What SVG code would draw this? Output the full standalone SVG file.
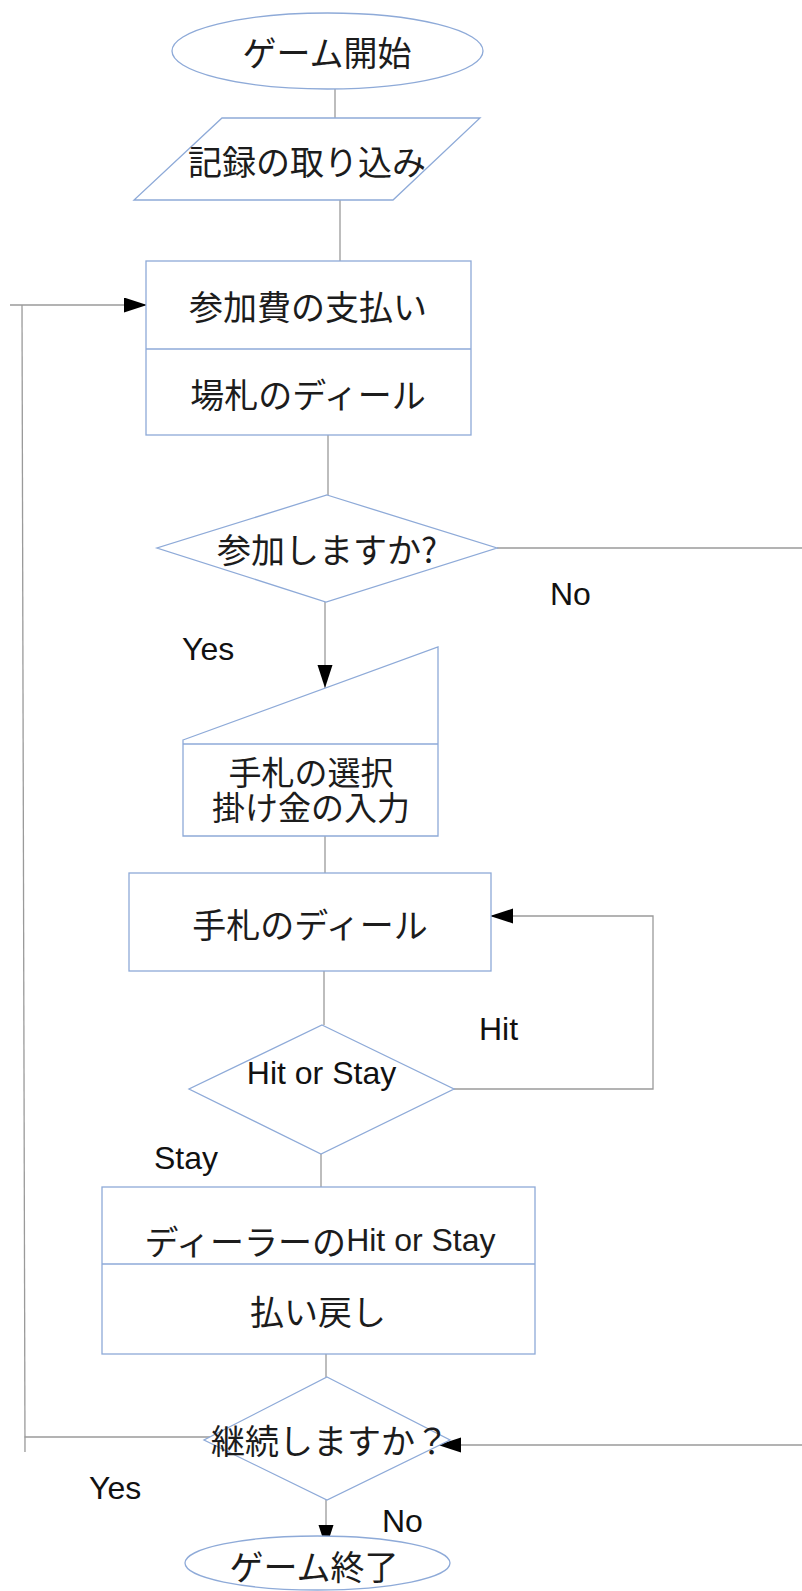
<svg xmlns="http://www.w3.org/2000/svg" width="802" height="1591" viewBox="0 0 802 1591">
<defs>
<style>
.shape{fill:#ffffff;stroke:#8eaad8;stroke-width:1.3}
.conn{fill:none;stroke:#9a9a9a;stroke-width:1.3}
.jp{font-family:"Noto Sans CJK JP","Liberation Sans",sans-serif;font-size:34px;fill:#1c1c1c;text-anchor:middle;dominant-baseline:central}
.jp2{font-size:33px}
.lbl{font-family:"Liberation Sans",Arial,sans-serif;font-size:32px;fill:#111111}
</style>
<marker id="arr" markerUnits="userSpaceOnUse" markerWidth="24" markerHeight="16" refX="23" refY="7.5" orient="auto">
<path d="M0,0 L23,7.5 L0,15 Z" fill="#000000"/>
</marker>
</defs>
<rect width="802" height="1591" fill="#ffffff"/>

<g id="connectors">
<path class="conn" d="M335,89 V118"/>
<path class="conn" d="M340,200 V261"/>
<path class="conn" d="M328,435 V495"/>
<path class="conn" d="M325,602 V688" marker-end="url(#arr)"/>
<path class="conn" d="M497,548 H806 V1445 H438" marker-end="url(#arr)"/>
<path class="conn" d="M325,836 V873"/>
<path class="conn" d="M324,971 V1025"/>
<path class="conn" d="M454,1089 H653 V916 H490" marker-end="url(#arr)"/>
<path class="conn" d="M321,1154 V1187"/>
<path class="conn" d="M326,1354 V1377"/>
<path class="conn" d="M210,1437 H24.5"/>
<path class="conn" d="M25,1452 L22,305"/>
<path class="conn" d="M10,305 H147" marker-end="url(#arr)"/>
<path class="conn" d="M326,1500 V1548" marker-end="url(#arr)"/>
</g>

<g id="start">
<ellipse class="shape" cx="327.5" cy="51" rx="155.5" ry="38"/>
<text class="jp" x="327" y="51">ゲーム開始</text>
</g>

<g id="load">
<polygon class="shape" points="222,118 480,118 393,200 134,200"/>
<text class="jp" x="307" y="160">記録の取り込み</text>
</g>

<g id="fee">
<rect class="shape" x="146" y="261" width="325" height="174"/>
<line class="shape" x1="146" y1="349" x2="471" y2="349"/>
<text class="jp" x="308" y="305">参加費の支払い</text>
<text class="jp" x="308" y="393">場札のディール</text>
</g>

<g id="join">
<polygon class="shape" points="327,495 497,548 326,602 157,548"/>
<text class="jp" x="327" y="548">参加しますか?</text>
</g>

<g id="bet">
<path class="shape" d="M183,740 L438,647 L438,836 L183,836 Z"/>
<line class="shape" x1="183" y1="744" x2="438" y2="744"/>
<text class="jp jp2" x="311" y="771"><tspan x="311" y="771">手札の選択</tspan><tspan x="311" y="806">掛け金の入力</tspan></text>
</g>

<g id="deal">
<rect class="shape" x="129" y="873" width="362" height="98"/>
<text class="jp" x="310" y="923">手札のディール</text>
</g>

<g id="hitstay">
<polygon class="shape" points="322,1025 454,1089 321,1154 189,1089"/>
<text class="lbl" x="321.5" y="1084" text-anchor="middle">Hit or Stay</text>
</g>

<g id="dealer">
<rect class="shape" x="102" y="1187" width="433" height="167"/>
<line class="shape" x1="102" y1="1264" x2="535" y2="1264"/>
<text class="jp" x="320" y="1240">ディーラーの<tspan font-family="Liberation Sans, Arial, sans-serif" font-size="32">Hit or Stay</tspan></text>
<text class="jp" x="318" y="1310">払い戻し</text>
</g>

<g id="continue">
<polygon class="shape" points="327,1377 450,1440 327,1500 204,1440"/>
<text class="jp" x="330" y="1439">継続しますか？</text>
</g>

<g id="end">
<ellipse class="shape" cx="317.5" cy="1563" rx="132.5" ry="27"/>
<text class="jp" x="314" y="1565">ゲーム終了</text>
</g>

<g id="labels">
<text class="lbl" x="550" y="605">No</text>
<text class="lbl" x="182" y="660">Yes</text>
<text class="lbl" x="479" y="1040">Hit</text>
<text class="lbl" x="154" y="1169">Stay</text>
<text class="lbl" x="89" y="1499">Yes</text>
<text class="lbl" x="382" y="1532">No</text>
</g>
</svg>
